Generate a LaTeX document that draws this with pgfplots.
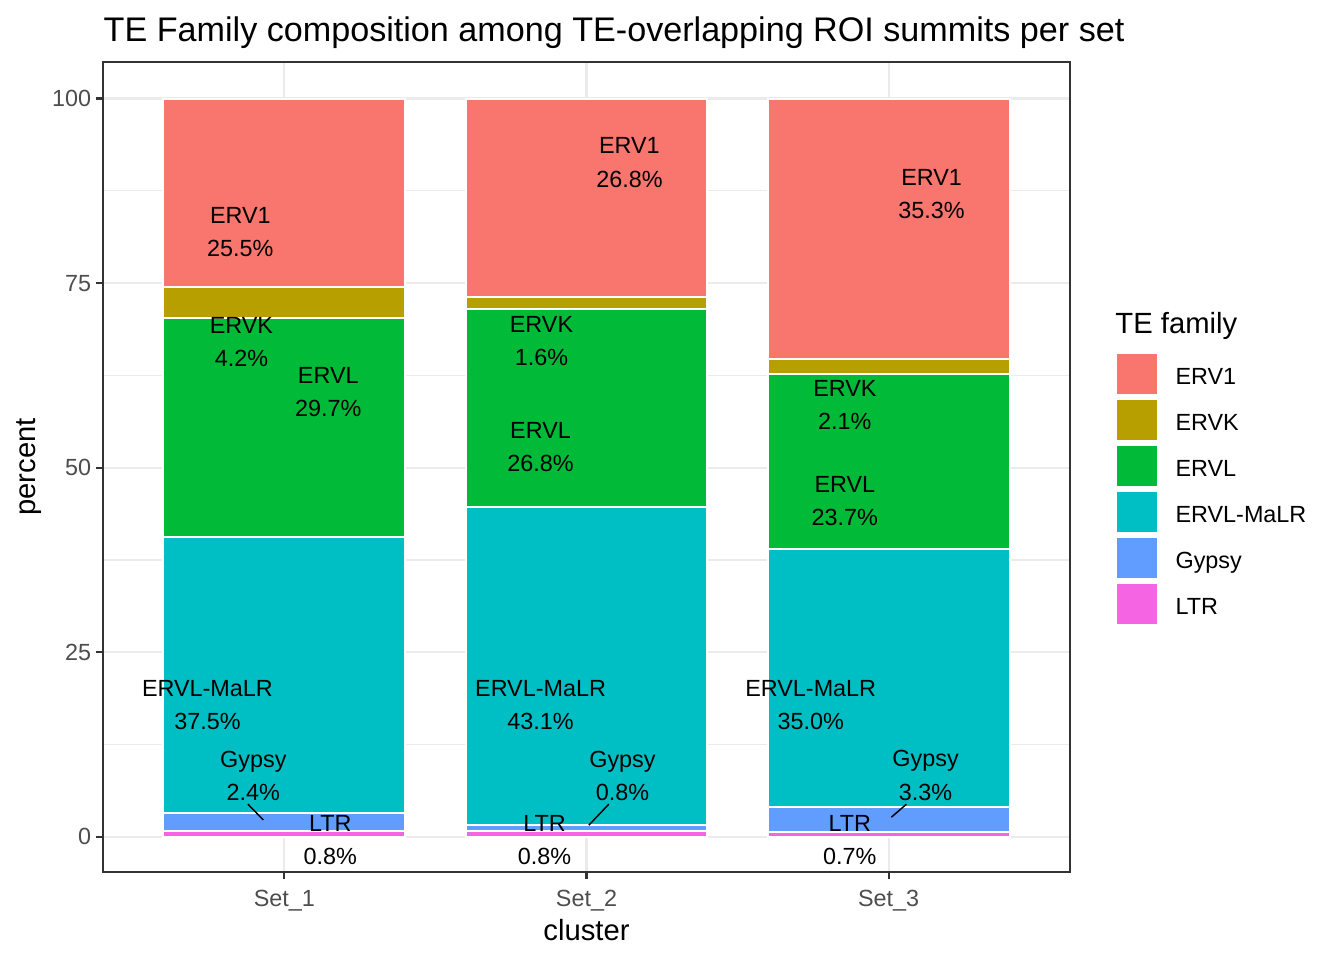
\documentclass[border=0pt]{standalone}
\usepackage{pgfplots}
\pgfplotsset{compat=1.18}
\usepackage{fontspec}
\setmainfont{Liberation Sans}
\definecolor{cERVone}{HTML}{F8766D}
\definecolor{cERVK}{HTML}{B79F00}
\definecolor{cERVL}{HTML}{00BA38}
\definecolor{cMaLR}{HTML}{00BFC4}
\definecolor{cGypsy}{HTML}{619CFF}
\definecolor{cLTR}{HTML}{F564E3}
\definecolor{grey92}{HTML}{EBEBEB}
\definecolor{grey20}{HTML}{333333}
\definecolor{grey30}{HTML}{4D4D4D}
\newcommand{\lab}{\fontsize{8.8}{12.45}\selectfont}
\begin{document}
\begin{tikzpicture}
\useasboundingbox (0,0) rectangle (504bp,360bp);
\begin{axis}[
  at={(38.625bp,33bp)}, anchor=south west,
  scale only axis, width=362.625bp, height=303.75bp,
  xmin=0.4, xmax=3.6, ymin=-4.75, ymax=104.95,
  clip=false,
  ybar stacked, bar width=0.8,
  xtick={1,2,3}, xticklabels={Set\_1,Set\_2,Set\_3},
  ytick={0,25,50,75,100}, yticklabels={0,25,50,75,100},
  minor ytick={12.5,37.5,62.5,87.5},
  xmajorgrids, ymajorgrids, yminorgrids,
  major grid style={color=grey92, line width=0.8bp},
  minor grid style={color=grey92, line width=0.4bp},
  tick align=outside, xtick pos=bottom, ytick pos=left,
  major tick length=2.74bp, minor tick length=0pt,
  tick style={color=grey20, line width=0.8bp},
  axis line style={color=grey20, line width=0.8bp},
  /pgf/number format/assume math mode=true,
  ticklabel style={font=\fontsize{8.8}{10}\selectfont, text=grey30},
  xticklabel style={anchor=base, inner sep=0pt, yshift=-10.1bp},
  yticklabel style={anchor=east, inner sep=0pt, xshift=-1.5bp},
  xlabel={cluster}, ylabel={percent},
  label style={font=\fontsize{11}{13}\selectfont},
  xlabel style={at={(axis description cs:0.5,-0.0840)}, anchor=base, inner sep=0pt},
  ylabel style={at={(axis description cs:-0.0765,0.5)}, anchor=center, inner sep=0pt},
  every axis plot/.append style={draw=white, line width=0.75bp},
  reverse legend,
  legend style={at={(1.0483,0.6432)}, anchor=north west, draw=none, fill=none,
    inner sep=0pt, outer sep=0pt, font=\fontsize{8.8}{10}\selectfont,
    cells={anchor=base west},
    nodes={inner sep=0pt, text height=12.375bp, text depth=4.875bp}},
  legend image code/.code={\path[#1, draw=none] (0bp,-3.75bp) rectangle (15bp,11.25bp); \path (21.7bp,0bp);},
]
\addplot[fill=cLTR] coordinates {(1,0.8) (2,0.8) (3,0.7)};
\addlegendentry{LTR}
\addplot[fill=cGypsy] coordinates {(1,2.4) (2,0.8) (3,3.3)};
\addlegendentry{Gypsy}
\addplot[fill=cMaLR] coordinates {(1,37.45) (2,43.1) (3,35.0)};
\addlegendentry{ERVL-MaLR}
\addplot[fill=cERVL] coordinates {(1,29.65) (2,26.8) (3,23.7)};
\addlegendentry{ERVL}
\addplot[fill=cERVK] coordinates {(1,4.2) (2,1.65) (3,2.05)};
\addlegendentry{ERVK}
\addplot[fill=cERVone] coordinates {(1,25.5) (2,26.85) (3,35.25)};
\addlegendentry{ERV1}

% anchor points of the repelled labels (drawn after the axis, above the bars)
\coordinate (a1) at (axis cs:0.8545,81.91);
\coordinate (b1) at (axis cs:0.858,67.07);
\coordinate (c1) at (axis cs:1.1455,60.23);
\coordinate (d1) at (axis cs:0.7455,17.82);
\coordinate (e1) at (axis cs:0.8975,8.27);
\coordinate (f1) at (axis cs:1.152,-0.47);
\coordinate (a2) at (axis cs:2.142,91.33);
\coordinate (b2) at (axis cs:1.851,67.14);
\coordinate (c2) at (axis cs:1.848,52.78);
\coordinate (d2) at (axis cs:1.848,17.82);
\coordinate (e2) at (axis cs:2.119,8.27);
\coordinate (f2) at (axis cs:1.861,-0.47);
\coordinate (a3) at (axis cs:3.142,87.06);
\coordinate (b3) at (axis cs:2.855,58.47);
\coordinate (c3) at (axis cs:2.855,45.46);
\coordinate (d3) at (axis cs:2.742,17.82);
\coordinate (e3) at (axis cs:3.122,8.33);
\coordinate (f3) at (axis cs:2.871,-0.47);
\coordinate (s1a) at (axis cs:0.8797,4.43);
\coordinate (s1b) at (axis cs:0.9305,2.30);
\coordinate (s2a) at (axis cs:2.0737,4.43);
\coordinate (s2b) at (axis cs:2.0076,1.585);
\coordinate (s3a) at (axis cs:3.0585,4.43);
\coordinate (s3b) at (axis cs:3.0089,2.67);
\end{axis}
\draw[black, line width=0.55bp] (s1a) -- (s1b);
\draw[black, line width=0.55bp] (s2a) -- (s2b);
\draw[black, line width=0.55bp] (s3a) -- (s3b);
\tikzset{lbl/.style={font=\lab, align=center, inner sep=0pt, anchor=center}}
\node[lbl] at (a1) {ERV1\\25.5\%};
\node[lbl] at (b1) {ERVK\\4.2\%};
\node[lbl] at (c1) {ERVL\\29.7\%};
\node[lbl] at (d1) {ERVL-MaLR\\37.5\%};
\node[lbl] at (e1) {Gypsy\\2.4\%};
\node[lbl] at (f1) {LTR\\0.8\%};
\node[lbl] at (a2) {ERV1\\26.8\%};
\node[lbl] at (b2) {ERVK\\1.6\%};
\node[lbl] at (c2) {ERVL\\26.8\%};
\node[lbl] at (d2) {ERVL-MaLR\\43.1\%};
\node[lbl] at (e2) {Gypsy\\0.8\%};
\node[lbl] at (f2) {LTR\\0.8\%};
\node[lbl] at (a3) {ERV1\\35.3\%};
\node[lbl] at (b3) {ERVK\\2.1\%};
\node[lbl] at (c3) {ERVL\\23.7\%};
\node[lbl] at (d3) {ERVL-MaLR\\35.0\%};
\node[lbl] at (e3) {Gypsy\\3.3\%};
\node[lbl] at (f3) {LTR\\0.7\%};
\node[anchor=base west, inner sep=0pt, font=\fontsize{12.85}{15}\selectfont] at (38.7bp,344.4bp) {TE Family composition among TE-overlapping ROI summits per set};
\node[anchor=base west, inner sep=0pt, font=\fontsize{11}{13}\selectfont] at (418.1bp,235.1bp) {TE family};
\end{tikzpicture}
\end{document}
